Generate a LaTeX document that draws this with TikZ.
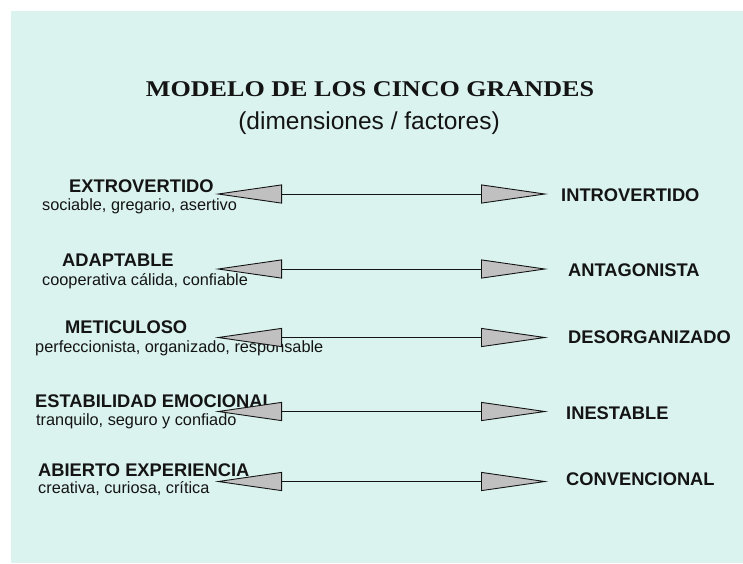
\documentclass[tikz,border=0pt]{standalone}
\usepackage{fontspec}
\setmainfont{Liberation Serif}
\setsansfont{Liberation Sans}
\usetikzlibrary{arrows.meta}
\definecolor{bgmint}{HTML}{DAF3EF}
\definecolor{tipgray}{HTML}{C0C0C0}
\definecolor{ink}{HTML}{141414}
\tikzset{
  lbl/.style={anchor=base west,inner sep=0pt,text=ink,font=\sffamily\bfseries\fontsize{18.3}{21}\selectfont},
  sub/.style={anchor=base west,inner sep=0pt,text=ink,font=\sffamily\fontsize{16.3}{19}\selectfont},
  dimarrow/.style={line width=0.9pt,draw=ink,
    {Triangle[length=67pt,width=19pt,fill=tipgray,line width=0.9pt]}-{Triangle[length=67pt,width=19pt,fill=tipgray,line width=0.9pt]}}
}
\begin{document}
\begin{tikzpicture}[x=1pt,y=-1pt]
\useasboundingbox (0,0) rectangle (743,563);
\fill[white] (0,0) rectangle (743,563);
\fill[bgmint] (11,11) rectangle (743,563);
% title
\node[anchor=base,inner sep=0pt,text=ink,font=\rmfamily\bfseries\fontsize{22.5}{26}\selectfont] (title) at (370,96) {\scalebox{1.16}[1]{MODELO DE LOS CINCO GRANDES}};
\node[anchor=base,inner sep=0pt,text=ink,font=\sffamily\fontsize{24.5}{28}\selectfont] (subtitle) at (369,129) {(dimensiones / factores)};
% left labels
\node[lbl] (l1) at (69,192.7) {EXTROVERTIDO};
\node[sub] (s1) at (42,210.7) {sociable, gregario, asertivo};
\node[lbl] (l2) at (62,266.7) {ADAPTABLE};
\node[sub] (s2) at (42,285) {cooperativa cálida, confiable};
\node[lbl] (l3) at (65,333) {METICULOSO};
\node[sub] (s3) at (35,352) {perfeccionista, organizado, responsable};
\node[lbl] (l4) at (35,407) {ESTABILIDAD EMOCIONAL};
\node[sub] (s4) at (36,425) {tranquilo, seguro y confiado};
\node[lbl] (l5) at (38,476) {ABIERTO EXPERIENCIA};
\node[sub] (s5) at (38,493) {creativa, curiosa, crítica};
% right labels
\node[lbl] (r1) at (561,201.7) {INTROVERTIDO};
\node[lbl] (r2) at (568,276.7) {ANTAGONISTA};
\node[lbl] (r3) at (568,343) {DESORGANIZADO};
\node[lbl] (r4) at (566,419) {INESTABLE};
\node[lbl] (r5) at (566,485) {CONVENCIONAL};
% arrow ends
\coordinate (a1) at (215,194); \coordinate (b1) at (548,194);
\coordinate (a2) at (215,269); \coordinate (b2) at (548,269);
\coordinate (a3) at (215,337.5); \coordinate (b3) at (548,337.5);
\coordinate (a4) at (215,411.5); \coordinate (b4) at (548,411.5);
\coordinate (a5) at (215,481.5); \coordinate (b5) at (548,481.5);
\foreach \i in {1,...,5} {\draw[dimarrow] (a\i) -- (b\i);}
\end{tikzpicture}
\end{document}
